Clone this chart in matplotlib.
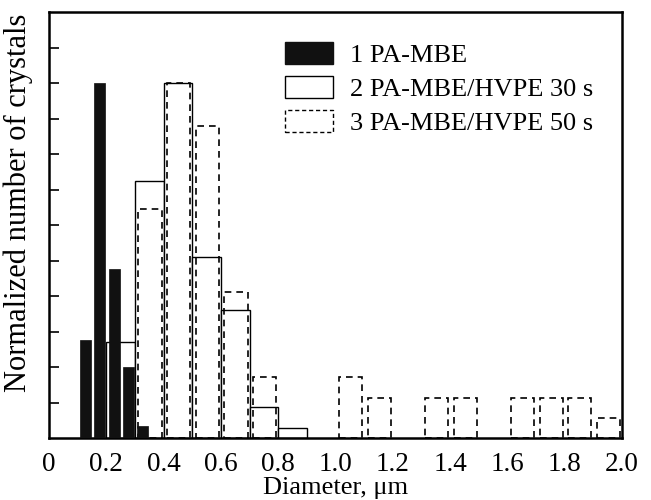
#!/usr/bin/env python3

import matplotlib
matplotlib.use("Agg")
import matplotlib.pyplot as plt
import numpy as np
from matplotlib.patches import Patch

#Histogram data (left edge of each diameter bin, um, and normalized count)
mbe_bins = [0.10, 0.15, 0.20, 0.25, 0.30]
mbe_counts = [2.75, 10.0, 4.75, 2.0, 0.35]

hvpe30_bins = [0.2, 0.3, 0.4, 0.5, 0.6, 0.7, 0.8]
hvpe30_counts = [2.7, 7.25, 10.0, 5.1, 3.6, 0.88, 0.27]

hvpe50_bins = [0.3, 0.4, 0.5, 0.6, 0.7, 1.0, 1.1, 1.3, 1.4, 1.6, 1.7, 1.8, 1.9]
hvpe50_counts = [6.45, 10.0, 8.8, 4.1, 1.73, 1.73, 1.12, 1.12, 1.12, 1.12, 1.12, 1.12, 0.55]

labels = ['1 PA-MBE', '2 PA-MBE/HVPE 30 s', '3 PA-MBE/HVPE 50 s']
xticks = [0, 0.2, 0.4, 0.6, 0.8, 1.0, 1.2, 1.4, 1.6, 1.8, 2.0]
xticklabels = ['0', '0.2', '0.4', '0.6', '0.8', '1.0', '1.2', '1.4', '1.6', '1.8', '2.0']

plt.rcParams['font.family'] = ['Liberation Serif', 'DejaVu Serif']
plt.rcParams['font.size'] = 19

fig = plt.figure(figsize=(6.51, 5.0), dpi=100)
ax = fig.add_axes([0.0753, 0.124, 0.8802, 0.852])

#Sample 2: solid outlined bars, full bin width
ax.bar(np.array(hvpe30_bins), hvpe30_counts, width=0.1, align='edge',
       facecolor='white', edgecolor='black', linewidth=1.0, zorder=2)

#Sample 3: dashed outlined bars, a bit narrower
ax.bar(np.array(hvpe50_bins) + 0.012, hvpe50_counts, width=0.081, align='edge',
       facecolor='none', edgecolor='black', linewidth=1.2, linestyle=(0, (4, 3)),
       zorder=3)

#Sample 1: filled black bars
ax.bar(np.array(mbe_bins) + 0.008, mbe_counts, width=0.038, align='edge',
       facecolor='#111111', edgecolor='#111111', linewidth=0.5, zorder=4)

ax.set_xlim(0, 2.0)
ax.set_ylim(0, 12)
ax.set_xticks(xticks)
ax.set_xticklabels(xticklabels, fontsize=19.5)
ax.set_yticks(np.arange(1, 12))
ax.set_yticklabels([])
ax.tick_params(axis='x', length=0, pad=10)
ax.tick_params(axis='y', direction='in', length=7, width=1.2)
for s in ax.spines.values():
    s.set_linewidth(1.8)

ax.set_xlabel('Diameter, \u03bcm', fontsize=19, labelpad=0)
ax.set_ylabel('Normalized number of crystals', fontsize=22)
ax.yaxis.set_label_coords(-0.028, 0.552)

handles = [
    Patch(facecolor='#111111', edgecolor='#111111'),
    Patch(facecolor='white', edgecolor='black', linewidth=1.0),
    Patch(facecolor='white', edgecolor='black', linewidth=1.0, linestyle=(0, (3, 2))),
]
ax.legend(handles, labels, loc='upper left', bbox_to_anchor=(0.412, 0.929),
          frameon=False, borderpad=0, borderaxespad=0, handlelength=1.82,
          handleheight=0.87, labelspacing=0.35, handletextpad=0.64, fontsize=19)

fig.savefig('out.png', dpi=100)
